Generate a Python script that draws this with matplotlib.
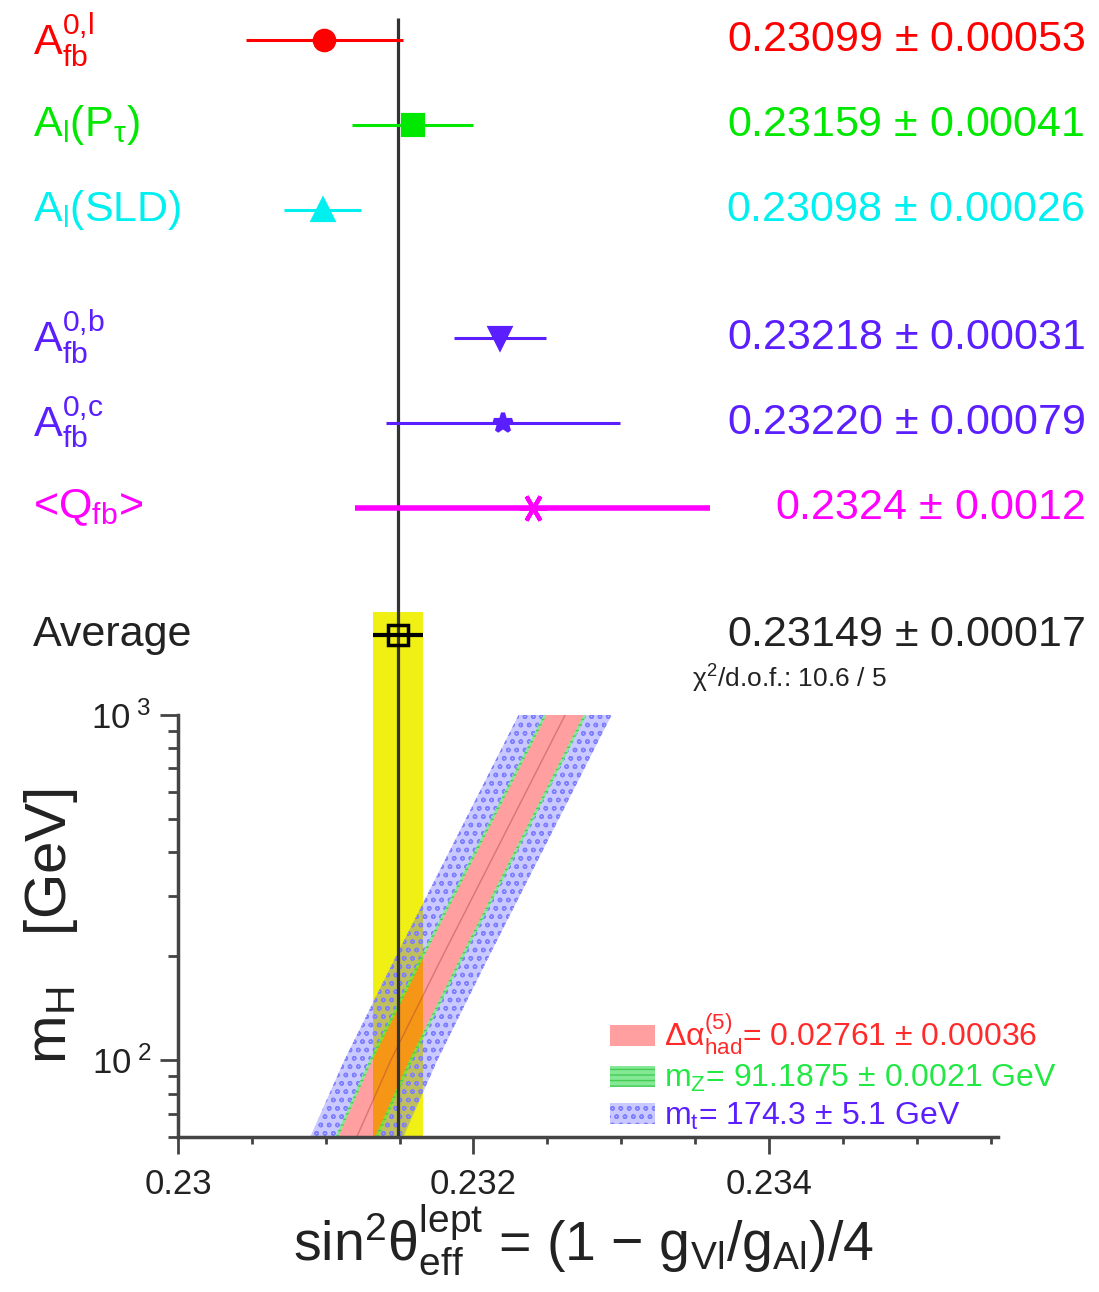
import numpy as np
import matplotlib
matplotlib.use('Agg')
import matplotlib.pyplot as plt
from matplotlib.ticker import FixedLocator, MultipleLocator, NullFormatter, FixedFormatter

plt.rcParams['font.family'] = ['Liberation Sans', 'DejaVu Sans']
plt.rcParams['mathtext.fontset'] = 'custom'
plt.rcParams['mathtext.rm'] = 'Liberation Sans'
plt.rcParams['mathtext.it'] = 'Liberation Sans:italic'
plt.rcParams['mathtext.bf'] = 'Liberation Sans:bold'
plt.rcParams['mathtext.default'] = 'regular'
plt.rcParams['hatch.linewidth'] = 1.0

# Mätningar av sin^2 theta_eff (lept)
labels = [r'$A^{0{,}l}_{fb}$', r'$A_l(P_\tau)$', r'$A_l$(SLD)',
          r'$A^{0{,}b}_{fb}$', r'$A^{0{,}c}_{fb}$', r'<$Q_{fb}$>']
values = [0.23099, 0.23159, 0.23098, 0.23218, 0.23220, 0.2324]
errors = [0.00053, 0.00041, 0.00026, 0.00031, 0.00079, 0.0012]
decimals = [5, 5, 5, 5, 5, 4]
rows = [0, 1, 2, 3.5, 4.5, 5.5]
colors = ['#ff0000', '#00e800', '#00f0f0', '#5a1eff', '#5a1eff', '#ff00ff']
markers = ['o', 's', '^', 'v', '*', (6, 2, 90)]

avg_value = 0.23149
avg_error = 0.00017
avg_row = 7
chi2_text = r'$\chi^2$/d.o.f.: 10.6 / 5'

# SM-band: mitten av bandet
mh_points = [60, 100, 200, 1000]
band_center = [0.23121, 0.23144, 0.23179, 0.23262]
hw_alpha = 0.000125
hw_mz = 0.000145
hw_mt = 0.000315
band_labels = [r'$\Delta\alpha^{(5)}_{had}$= 0.02761 $\pm$ 0.00036',
               r'$m_Z$= 91.1875 $\pm$ 0.0021 GeV',
               r'$m_t$= 174.3 $\pm$ 5.1 GeV']

xmin, xmax = 0.23, 0.23555
W, H = 1099, 1292
fig = plt.figure(figsize=(W / 100, H / 100), dpi=100)

# pixelgränser för axlarna
L, R, T_low, B_low = 178, 998, 715, 1137
ax_top = fig.add_axes([L / W, (H - T_low) / H, (R - L) / W, T_low / H])
ax = fig.add_axes([L / W, (H - B_low) / H, (R - L) / W, (B_low - T_low) / H])

# ---- övre delen: mätpunkterna ----
ytop, ybot = -0.47, 7.94
ax_top.set_xlim(xmin, xmax)
ax_top.set_ylim(ybot, ytop)
ax_top.axis('off')
tr = ax_top.get_yaxis_transform()

for lab, v, e, d, r, c, m in zip(labels, values, errors, decimals, rows, colors, markers):
    lw = 4 if c == '#ff00ff' else 2.2
    ms = 20 if m == (6, 2, 90) else 14
    ax_top.errorbar(v, r, xerr=e, fmt='none', ecolor=c, elinewidth=lw, capsize=0, zorder=4)
    ax_top.plot(v, r, marker=m, color=c, ms=ms, mew=3, ls='none', zorder=5)
    ax_top.text(-0.177, r, lab, transform=tr, color=c, fontsize=31, ha='left', va='center')
    ax_top.text(1.106, r, f'{v:.{d}f} $\\pm$ {e:.{d}f}', transform=tr, color=c,
                fontsize=31, ha='right', va='center')

ax_top.errorbar(avg_value, avg_row, xerr=avg_error, fmt='none', ecolor='black',
                elinewidth=3, capsize=0, zorder=4)
ax_top.plot(avg_value, avg_row, 's', mfc='none', mec='black', ms=14, mew=2.5, zorder=5)
ax_top.text(-0.177, avg_row, 'Average', transform=tr, color='#222222', fontsize=31,
            ha='left', va='center')
ax_top.text(1.106, avg_row, f'{avg_value:.5f} $\\pm$ {avg_error:.5f}', transform=tr,
            color='#222222', fontsize=31, ha='right', va='center')
ax_top.text(0.627, avg_row + 0.52, chi2_text, transform=tr, color='#222222',
            fontsize=19, ha='left', va='center')

# gula bandet och medelvärdeslinjen
ax_top.fill_betweenx([avg_row - 0.27, ybot], avg_value - avg_error, avg_value + avg_error,
                     color='#f0f014', lw=0, zorder=1)
ax_top.vlines(avg_value, ytop + 0.21, ybot, color='#333333', lw=2.3, zorder=3)

# ---- nedre delen: m_H mot sin^2 ----
mh = np.array(mh_points, dtype=float)
cen = np.array(band_center)

ax.axvspan(avg_value - avg_error, avg_value + avg_error, color='#f0f014', lw=0, zorder=1)
# banden ritas bara utanför det inre bandet, så färgerna inte blandas
mt_style = dict(facecolor=(0.35, 0.35, 1.0, 0.32), edgecolor='#8080ff', hatch='oo', lw=0, zorder=2)
mz_style = dict(facecolor=(0.2, 0.85, 0.3, 0.6), edgecolor='#44cc55', hatch='---', lw=0, zorder=3)
h_mt = ax.fill_betweenx(mh, cen - hw_mt, cen - hw_mz, **mt_style)
ax.fill_betweenx(mh, cen + hw_mz, cen + hw_mt, **mt_style)
h_mz = ax.fill_betweenx(mh, cen - hw_mz, cen - hw_alpha, **mz_style)
ax.fill_betweenx(mh, cen + hw_alpha, cen + hw_mz, **mz_style)
h_al = ax.fill_betweenx(mh, cen - hw_alpha, cen + hw_alpha, facecolor=(1.0, 0.1, 0.1, 0.42),
                        lw=0, zorder=4)
ax.plot(cen, mh, color='#b04040', lw=1.0, alpha=0.45, zorder=4)
ax.axvline(avg_value, color='#333333', lw=2.3, zorder=5)

ax.set_yscale('log')
ax.set_xlim(xmin, xmax)
ax.set_ylim(60, 1000)

ax.xaxis.set_major_locator(FixedLocator([0.23, 0.232, 0.234]))
ax.xaxis.set_major_formatter(FixedFormatter(['0.23', '0.232', '0.234']))
ax.xaxis.set_minor_locator(MultipleLocator(0.0005))
ax.yaxis.set_major_locator(FixedLocator([100, 1000]))
ax.yaxis.set_major_formatter(FixedFormatter([r'10$^{\ 2}$', r'10$^{\ 3}$']))
ax.yaxis.set_minor_locator(FixedLocator([60, 70, 80, 90, 200, 300, 400, 500, 600, 700, 800, 900]))
ax.yaxis.set_minor_formatter(NullFormatter())

for s in ['top', 'right']:
    ax.spines[s].set_visible(False)
for s in ['left', 'bottom']:
    ax.spines[s].set_linewidth(2.5)
    ax.spines[s].set_color('#444444')
    ax.spines[s].set_zorder(6)

ax.tick_params(axis='x', which='major', length=12, width=2, color='#444444',
               labelsize=25, pad=10, labelcolor='#222222')
ax.tick_params(axis='x', which='minor', length=5, width=2, color='#444444')
ax.tick_params(axis='y', which='major', length=13, width=2, color='#444444',
               labelsize=25, pad=6, labelcolor='#222222')
ax.tick_params(axis='y', which='minor', length=7, width=2, color='#444444')

ax.set_xlabel(r'$sin^2\theta^{lept}_{eff}$ = (1 $-$ $g_{Vl}/g_{Al}$)/4', fontsize=40,
              color='#222222')
ax.xaxis.set_label_coords(0.494, -0.155)
ax.set_ylabel(r'$m_H$   [GeV]', fontsize=42, color='#222222')
ax.yaxis.set_label_coords(-0.12, 0.5)

leg = ax.legend([h_al, h_mz, h_mt], band_labels, loc='lower left',
                bbox_to_anchor=(0.527, 0.012), frameon=False, fontsize=23,
                handlelength=1.4, handleheight=0.63, handletextpad=0.3,
                labelspacing=0.2, borderpad=0, borderaxespad=0)
for t, c in zip(leg.get_texts(), ['#ff2a2a', '#22e844', '#5a1eff']):
    t.set_color(c)

fig.savefig('out.png', dpi=100)
